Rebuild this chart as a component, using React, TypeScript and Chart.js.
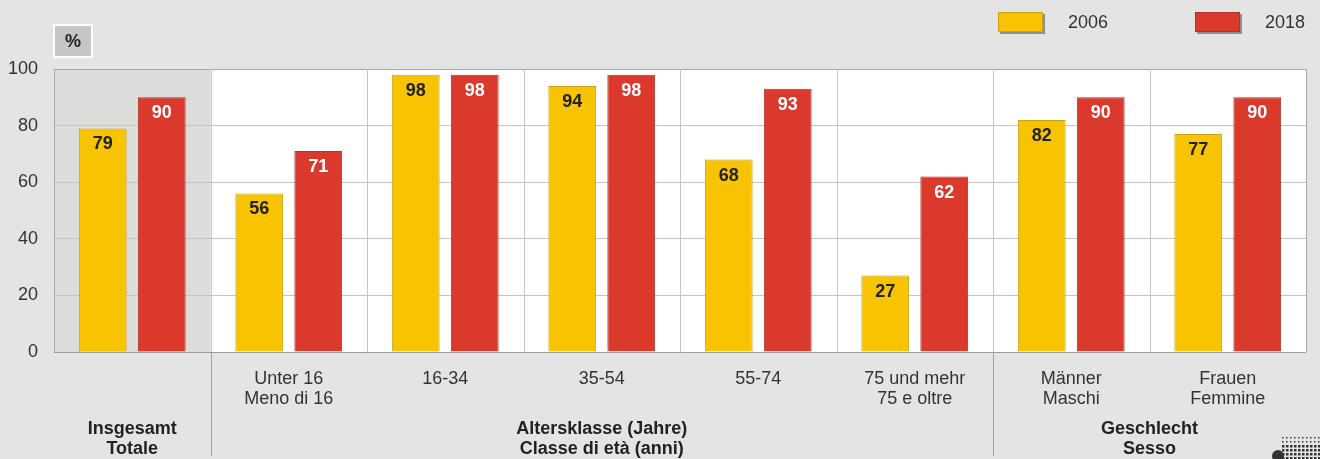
import React, { useEffect, useRef } from "react";
import { Chart, registerables } from "chart.js";

Chart.register(...registerables);

const categories = ["Insgesamt", "Unter 16", "16-34", "35-54", "55-74", "75 und mehr", "Männer", "Frauen"];
const catLine1 = ["", "Unter 16", "16-34", "35-54", "55-74", "75 und mehr", "Männer", "Frauen"];
const catLine2 = ["", "Meno di 16", "", "", "", "75 e oltre", "Maschi", "Femmine"];
const values2006 = [79, 56, 98, 94, 68, 27, 82, 77];
const values2018 = [90, 71, 98, 98, 93, 62, 90, 90];
const seriesNames = ["2006", "2018"];
const groupFrom = [0, 1, 6];
const groupTo = [0, 5, 7];
const groupLine1 = ["Insgesamt", "Altersklasse (Jahre)", "Geschlecht"];
const groupLine2 = ["Totale", "Classe di età (anni)", "Sesso"];
const yTicks = [0, 20, 40, 60, 80, 100];

const YELLOW = "#f8c300";
const YELLOW_B = "#c9a21a";
const RED = "#dc392d";
const RED_B = "#a8342a";
const BG = "#e4e4e4";
const FONT = "'Liberation Sans', Arial, sans-serif";

const overlay = {
  id: "overlay",
  beforeDraw(chart: any) {
    const { ctx, chartArea: a, scales } = chart;
    const x = scales.x;
    ctx.save();
    ctx.fillStyle = BG;
    ctx.fillRect(0, 0, chart.width, chart.height);
    ctx.fillStyle = "#ffffff";
    ctx.fillRect(a.left, a.top, a.right - a.left, a.bottom - a.top);
    const half = (x.getPixelForValue(1) - x.getPixelForValue(0)) / 2;
    ctx.fillStyle = "#dcdcda";
    ctx.fillRect(a.left, a.top, x.getPixelForValue(0) + half - a.left, a.bottom - a.top);
    ctx.restore();
  },
  beforeDatasetsDraw(chart: any) {
    const { ctx, chartArea: a, scales } = chart;
    const x = scales.x;
    const half = (x.getPixelForValue(1) - x.getPixelForValue(0)) / 2;
    ctx.save();
    ctx.lineWidth = 1;
    for (let i = 0; i < categories.length; i++) {
      const px = Math.round(x.getPixelForValue(i) + half) + 0.5;
      ctx.strokeStyle = i === categories.length - 1 ? "#a8a8a8" : "#c4c4c4";
      ctx.beginPath();
      ctx.moveTo(px, a.top);
      ctx.lineTo(px, a.bottom);
      ctx.stroke();
    }
    ctx.restore();
  },
  afterDatasetsDraw(chart: any) {
    const { ctx, chartArea: a, scales } = chart;
    const x = scales.x;
    const half = (x.getPixelForValue(1) - x.getPixelForValue(0)) / 2;
    ctx.save();
    // value labels
    ctx.textAlign = "center";
    ctx.textBaseline = "middle";
    ctx.font = `bold 18px ${FONT}`;
    chart.data.datasets.forEach((ds: any, di: number) => {
      const meta = chart.getDatasetMeta(di);
      meta.data.forEach((bar: any, i: number) => {
        ctx.fillStyle = di === 0 ? "#222222" : "#ffffff";
        ctx.fillText(String(ds.data[i]), bar.x, bar.y + 16);
      });
    });
    // category labels
    ctx.font = `18px ${FONT}`;
    ctx.fillStyle = "#333333";
    categories.forEach((_, i) => {
      const cx = x.getPixelForValue(i);
      if (catLine1[i]) ctx.fillText(catLine1[i], cx, a.bottom + 27);
      if (catLine2[i]) ctx.fillText(catLine2[i], cx, a.bottom + 47);
    });
    // group labels
    ctx.font = `bold 18px ${FONT}`;
    ctx.fillStyle = "#222222";
    groupLine1.forEach((g, gi) => {
      const l = x.getPixelForValue(groupFrom[gi]) - half;
      const r = Math.min(x.getPixelForValue(groupTo[gi]) + half, a.right);
      const cx = (l + r) / 2;
      ctx.fillText(g, cx, a.bottom + 77);
      ctx.fillText(groupLine2[gi], cx, a.bottom + 97);
    });
    // group separators
    ctx.strokeStyle = "#a0a0a0";
    ctx.lineWidth = 1;
    for (let gi = 1; gi < groupFrom.length; gi++) {
      const px = Math.round(x.getPixelForValue(groupFrom[gi]) - half) + 0.5;
      ctx.beginPath();
      ctx.moveTo(px, a.bottom);
      ctx.lineTo(px, a.bottom + 104);
      ctx.stroke();
    }
    // legend
    const legendX = [998, 1195];
    const colors = [YELLOW, RED];
    const borders = [YELLOW_B, RED_B];
    seriesNames.forEach((n, i) => {
      const lx = legendX[i];
      ctx.fillStyle = "#8f8f8f";
      ctx.fillRect(lx + 2, 14, 45, 20);
      ctx.fillStyle = colors[i];
      ctx.fillRect(lx, 12, 45, 20);
      ctx.strokeStyle = borders[i];
      ctx.strokeRect(lx + 0.5, 12.5, 44, 19);
      ctx.fillStyle = "#333333";
      ctx.font = `18px ${FONT}`;
      ctx.textAlign = "left";
      ctx.fillText(n, lx + 70, 23);
    });
    // % box
    ctx.fillStyle = "#ffffff";
    ctx.fillRect(a.left - 1, 24, 40, 34);
    ctx.fillStyle = "#c6c6c6";
    ctx.fillRect(a.left + 1, 26, 36, 30);
    ctx.fillStyle = "#222222";
    ctx.font = `bold 18px ${FONT}`;
    ctx.textAlign = "center";
    ctx.fillText("%", a.left + 19, 42);
    // logo dots
    ctx.fillStyle = "#333333";
    for (let r = 0; r < 6; r++) {
      for (let c = 0; c < 10; c++) {
        const s = r < 2 ? 1.5 : 2.5;
        ctx.fillRect(1282 + c * 4, 437 + r * 4, s, s);
      }
    }
    ctx.beginPath();
    ctx.arc(1278, 456, 6, 0, Math.PI * 2);
    ctx.fill();
    ctx.restore();
  },
};

export default function App() {
  const ref = useRef<HTMLCanvasElement | null>(null);
  useEffect(() => {
    document.body.style.margin = "0";
    document.body.style.background = BG;
    const canvas = ref.current!;
    const chart = new Chart(canvas, {
      type: "bar",
      data: {
        labels: categories,
        datasets: [
          {
            label: seriesNames[0],
            data: values2006,
            backgroundColor: YELLOW,
            borderColor: YELLOW_B,
            borderWidth: 1,
            categoryPercentage: 0.754,
            barPercentage: 0.81,
          },
          {
            label: seriesNames[1],
            data: values2018,
            backgroundColor: RED,
            borderColor: RED_B,
            borderWidth: 1,
            categoryPercentage: 0.754,
            barPercentage: 0.81,
          },
        ],
      },
      options: {
        responsive: false,
        animation: false,
        layout: { padding: { left: 0, right: 14, top: 69, bottom: 107 } },
        plugins: { legend: { display: false }, tooltip: { enabled: false } },
        scales: {
          x: { display: false },
          y: {
            min: 0,
            max: 100,
            afterFit: (s: any) => {
              s.width = 54;
            },
            afterBuildTicks: (s: any) => {
              s.ticks = yTicks.map((v) => ({ value: v }));
            },
            ticks: {
              font: { family: FONT, size: 18 },
              color: "#333333",
              padding: 16,
            },
            grid: {
              drawTicks: false,
              color: (c: any) => (c.tick && c.tick.value === 0 ? "#9a9a9a" : c.tick && c.tick.value === 100 ? "#a8a8a8" : "#c4c4c4"),
              lineWidth: 1,
            },
            border: { display: true, color: "#a8a8a8" },
          },
        },
      },
      plugins: [overlay],
    });
    return () => chart.destroy();
  }, []);
  return <canvas ref={ref} width={1320} height={459} style={{ display: "block", width: 1320, height: 459 }} />;
}
